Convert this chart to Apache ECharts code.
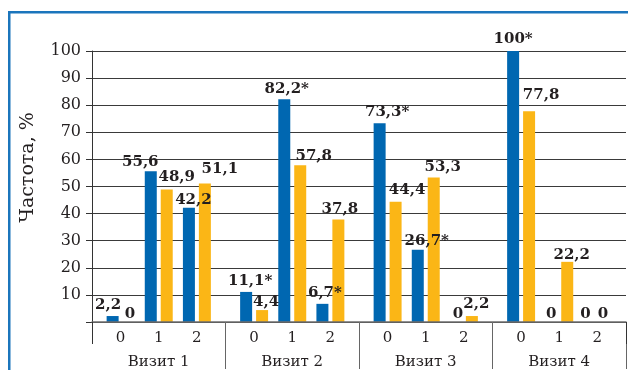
<!DOCTYPE html>
<html>
<head>
<meta charset="utf-8">
<script src="https://cdn.jsdelivr.net/npm/echarts@6/dist/echarts.min.js"></script>
<style>
  html, body { margin: 0; padding: 0; background: #fff; }
  #chart { width: 628px; height: 370px; }
</style>
</head>
<body>
<div id="chart"></div>
<script>
const visits = ['Визит 1', 'Визит 2', 'Визит 3', 'Визит 4'];
const subCats = ['0', '1', '2'];

// values per visit x subcategory, in visit order
const blueValues = [2.2, 55.6, 42.2, 11.1, 82.2, 6.7, 73.3, 26.7, 0, 100, 0, 0];
const orangeValues = [0, 48.9, 51.1, 4.4, 57.8, 37.8, 44.4, 53.3, 2.2, 77.8, 22.2, 0];
const blueStar = [0, 0, 0, 1, 1, 1, 1, 1, 0, 1, 0, 0];
const orangeStar = [0, 0, 0, 0, 0, 0, 0, 0, 0, 0, 0, 0];

// label nudges (px), like the hand-placed labels of the original
const blueNudgeX = [-4.5, -10.5, 4.5, 4, 2.5, 2.5, 7.5, 9, 2, 0, 0, -4];
const blueNudgeY = [0, 1.5, 3, 0, 0, 0, -1, 1.5, 3, -1, 3, 3];
const orangeNudgeX = [1.5, 10, 15, 4, 13.5, 1.5, 11.5, 9, 4.5, 12, 4.5, -2.5];
const orangeNudgeY = [3, -2, -4, 3, 1.5, 0, -1, 0, -1, -6, 3.5, 3];

const SLOTS = 7; // pad,0,pad,1,pad,2,pad per visit
const serif = 'DejaVu Serif';
const ink = '#231f20';

let slotLabels = [];
let blueData = [];
let orangeData = [];

function fmt(v, star) {
  return String(v).replace('.', ',') + (star ? '*' : '');
}

function buildSlots() {
  visits.forEach((v, g) => {
    for (let s = 0; s < SLOTS; s++) {
      if (s % 2 === 1) {
        const k = (s - 1) / 2;
        const i = g * 3 + k;
        slotLabels.push(subCats[k]);
        blueData.push({
          value: blueValues[i],
          label: { formatter: fmt(blueValues[i], blueStar[i]), offset: [blueNudgeX[i], blueNudgeY[i]] },
        });
        orangeData.push({
          value: orangeValues[i],
          label: { formatter: fmt(orangeValues[i], orangeStar[i]), offset: [orangeNudgeX[i], orangeNudgeY[i]] },
        });
      } else {
        slotLabels.push('');
        blueData.push('-');
        orangeData.push('-');
      }
    }
  });
}

buildSlots();

const myChart = echarts.init(document.getElementById('chart'));

const valueLabel = {
  show: true,
  position: 'top',
  distance: 3,
  fontFamily: serif,
  fontWeight: 'bold',
  fontSize: 15,
  color: ink,
};

const option = {
  animation: false,
  graphic: [
    { type: 'rect', shape: { x: 8, y: 11, width: 2.5, height: 370 }, style: { fill: '#1b75bc' } },
    { type: 'rect', shape: { x: 8, y: 11, width: 630, height: 2.5 }, style: { fill: '#1b75bc' } },
  ],
  grid: {
    left: 92,
    right: 2,
    top: 51,
    bottom: 46.5,
  },
  xAxis: [
    {
      type: 'category',
      data: slotLabels,
      position: 'bottom',
      offset: 0,
      axisLine: { show: true, lineStyle: { color: '#6e6e6e', width: 1.5 } },
      axisTick: {
        show: true,
        length: 22,
        interval: (i) => i === 0,
        lineStyle: { color: '#333' },
      },
      axisLabel: {
        interval: 0,
        margin: 9,
        fontFamily: serif,
        fontSize: 15,
        color: ink,
      },
      z: 3,
    },
    {
      type: 'category',
      data: visits,
      position: 'bottom',
      offset: 0,
      axisLine: { show: false },
      axisTick: {
        show: true,
        length: 47,
        interval: (i) => i > 0,
        lineStyle: { color: '#666' },
      },
      axisLabel: {
        interval: 0,
        margin: 33,
        fontFamily: serif,
        fontSize: 15,
        color: ink,
      },
    },
  ],
  yAxis: {
    type: 'value',
    min: 0,
    max: 100,
    interval: 10,
    name: 'Частота, %',
    nameLocation: 'middle',
    nameGap: 54,
    nameTextStyle: {
      fontFamily: serif,
      fontSize: 19,
      color: ink,
      padding: [0, 0, 0, 38],
    },
    axisLine: { show: true, lineStyle: { color: '#333' } },
    axisTick: { show: true, length: 6, lineStyle: { color: '#333' } },
    axisLabel: {
      margin: 11,
      fontFamily: serif,
      fontSize: 16,
      color: ink,
      formatter: (v) => (v === 0 ? '' : v),
    },
    splitLine: { show: true, lineStyle: { color: '#3a3a3a', width: 1 } },
  },
  series: [
    {
      name: 'blue',
      type: 'bar',
      data: blueData,
      barWidth: 12,
      barGap: '33%',
      color: '#0067b1',
      label: valueLabel,
    },
    {
      name: 'orange',
      type: 'bar',
      data: orangeData,
      barWidth: 12,
      barGap: '33%',
      color: '#fbb616',
      label: valueLabel,
    },
  ],
};

myChart.setOption(option);
</script>
</body>
</html>
